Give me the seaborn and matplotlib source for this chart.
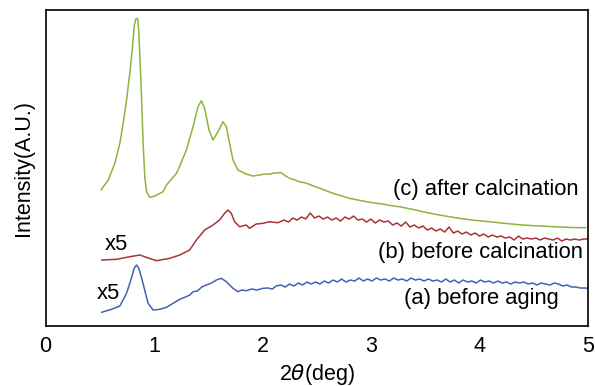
import pandas as pd
import matplotlib
matplotlib.use("Agg")
import matplotlib.pyplot as plt
import seaborn as sns

# 2theta (deg) and intensity (a.u.)
x_c = [0.511, 0.578, 0.639, 0.685, 0.716, 0.747, 0.777, 0.802, 0.817, 0.830, 0.848, 0.857,
       0.869, 0.885, 0.900, 0.915, 0.931, 0.961, 1.007, 1.084, 1.115, 1.207, 1.237, 1.299,
       1.360, 1.406, 1.437, 1.467, 1.507, 1.544, 1.590, 1.636, 1.667, 1.697, 1.728, 1.774,
       1.851, 1.912, 1.973, 2.02, 2.065, 2.11, 2.17, 2.20, 2.25, 2.30, 2.34, 2.40,
       2.49, 2.57, 2.65, 2.72, 2.80, 2.88, 2.96, 3.03, 3.11, 3.18, 3.26, 3.37,
       3.48, 3.63, 3.78, 3.93, 4.09, 4.25, 4.40, 4.55, 4.70, 4.85, 4.98]
y_c = [136, 146, 162.7, 182.7, 202.7, 226, 252.7, 279.3, 299.3, 306.7, 307.7, 299.3,
       272.7, 229.3, 182.7, 149.3, 134.3, 128.7, 130, 134.3, 141, 152.7, 160, 176,
       199.3, 219.3, 225.3, 217.7, 196, 186, 194.3, 204.3, 199.3, 182.7, 166, 156,
       152, 150, 151, 152, 152, 153, 153.5, 151, 147.7, 146, 144.3, 143,
       139.3, 136, 132.7, 130.5, 127.7, 126, 124.3, 123, 122, 120.5, 119.3, 117,
       114.3, 111, 108.3, 106, 104.3, 102.5, 101, 100, 99.3, 98.5, 98.3]

x_b = [0.517, 0.655, 0.777, 0.87, 0.93, 1.023, 1.145, 1.237, 1.329, 1.391, 1.467, 1.544,
       1.605, 1.651, 1.682, 1.713, 1.743, 1.789, 1.851, 1.881, 1.943, 2.004, 2.065, 2.142,
       2.20, 2.24, 2.28, 2.32, 2.36, 2.40, 2.44, 2.48, 2.52, 2.56, 2.60, 2.64,
       2.68, 2.72, 2.76, 2.80, 2.84, 2.88, 2.92, 2.96, 3.00, 3.04, 3.08, 3.12,
       3.16, 3.20, 3.24, 3.28, 3.32, 3.36, 3.40, 3.44, 3.48, 3.52, 3.56, 3.60,
       3.64, 3.68, 3.72, 3.76, 3.80, 3.84, 3.88, 3.92, 3.96, 4.00, 4.04, 4.08,
       4.12, 4.16, 4.20, 4.24, 4.28, 4.32, 4.36, 4.40, 4.44, 4.48, 4.52, 4.56,
       4.60, 4.64, 4.68, 4.72, 4.76, 4.80, 4.84, 4.88, 4.92, 4.96, 5.00]
y_b = [66, 66.7, 69.3, 71, 68.7, 65.3, 67.7, 71, 76, 86, 96, 101,
       106, 112.7, 116, 112.7, 104.3, 99.3, 101, 97.7, 102, 102.7, 104.3, 103.3,
       106, 104, 108, 106, 109, 107, 113, 108, 110, 107, 109, 106,
       108, 105, 109, 107, 110, 106, 107, 104, 107, 103, 106, 104,
       105, 101, 103, 100, 104, 99, 101, 98, 100, 96, 98, 95,
       97, 94, 99, 93, 95, 92, 94, 91, 93, 90, 92, 89,
       91, 89, 90, 88, 89, 86, 90, 87, 88, 87, 88, 86,
       88, 87, 86, 88, 85, 87, 86, 87, 86, 87, 87]

x_a = [0.517, 0.609, 0.685, 0.747, 0.787, 0.817, 0.839, 0.860, 0.891, 0.922, 0.946, 0.992,
       1.053, 1.115, 1.176, 1.237, 1.29, 1.33, 1.36, 1.40, 1.44, 1.483, 1.53, 1.575,
       1.621, 1.667, 1.728, 1.774, 1.81, 1.851, 1.90, 1.95, 2.004, 2.05, 2.09, 2.127,
       2.17, 2.21, 2.25, 2.29, 2.33, 2.37, 2.41, 2.45, 2.49, 2.53, 2.57, 2.61,
       2.65, 2.69, 2.73, 2.77, 2.81, 2.85, 2.89, 2.93, 2.97, 3.01, 3.05, 3.09,
       3.13, 3.17, 3.21, 3.25, 3.29, 3.33, 3.37, 3.41, 3.45, 3.49, 3.53, 3.57,
       3.61, 3.65, 3.69, 3.73, 3.77, 3.81, 3.85, 3.89, 3.93, 3.97, 4.01, 4.05,
       4.09, 4.13, 4.17, 4.21, 4.25, 4.29, 4.33, 4.37, 4.41, 4.45, 4.49, 4.53,
       4.57, 4.61, 4.65, 4.69, 4.73, 4.77, 4.81, 4.85, 4.89, 4.93, 4.97, 5.00]
y_a = [13.7, 16.7, 20, 32.7, 46, 57.7, 61, 57.7, 46, 32.7, 22.7, 16,
       16.7, 18.7, 22.7, 26.7, 29, 31, 34.3, 35, 39, 41, 43, 46,
       47.7, 44.3, 37.7, 34.3, 36, 35.3, 37, 36, 37.7, 38, 37, 40,
       41, 39, 42, 40, 43, 41, 44, 42, 44, 42, 45, 43,
       46, 44, 47, 44, 46, 45, 48, 45, 47, 45, 48, 46,
       47, 45, 48, 46, 47, 45, 48, 46, 47, 45, 47, 45,
       46, 44, 47, 44, 46, 43, 46, 44, 45, 43, 46, 44,
       45, 43, 45, 43, 44, 42, 44, 43, 44, 42, 43, 41,
       43, 42, 41, 43, 42, 40, 41, 39, 39, 38, 38, 37.7]

labels = ["(a) before aging", "(b) before calcination", "(c) after calcination"]
colors = ["#4462b4", "#a93438", "#8db43e"]

df = pd.concat([
    pd.DataFrame({"x": x_a, "y": y_a, "sample": labels[0]}),
    pd.DataFrame({"x": x_b, "y": y_b, "sample": labels[1]}),
    pd.DataFrame({"x": x_c, "y": y_c, "sample": labels[2]}),
], ignore_index=True)

sns.set_style("white")
plt.rcParams["font.family"] = ["Liberation Sans", "DejaVu Sans"]
plt.rcParams["text.color"] = "black"
plt.rcParams["axes.labelcolor"] = "black"

fig = plt.figure(figsize=(5.95, 3.86), dpi=100)
ax = fig.add_axes([0.0765, 0.1554, 0.9115, 0.8186])

sns.lineplot(data=df, x="x", y="y", hue="sample", palette=colors, sort=False,
             estimator=None, linewidth=1.1, legend=False, ax=ax)

ax.set_xlim(0, 5)
ax.set_ylim(0, 316)
ax.set_xticks([0, 1, 2, 3, 4, 5])
ax.set_yticks([])
ax.tick_params(axis="x", direction="in", length=6.5, width=1, labelsize=15.5,
               pad=7, colors="black")
for s in ax.spines.values():
    s.set_color("black")
    s.set_linewidth(1.2)

ax.set_xlabel(r"2$\it{\theta}$(deg)", fontsize=15.5, labelpad=4)
ax.set_ylabel("Intensity(A.U.)", fontsize=15.5, labelpad=8)

fs = 15.8
ax.text(4.06, 137, labels[2], fontsize=fs, ha="center", va="center")
ax.text(4.01, 74, labels[1], fontsize=fs, ha="center", va="center")
ax.text(4.02, 27.5, labels[0], fontsize=fs, ha="center", va="center")
ax.text(0.65, 82, "x5", fontsize=fs, ha="center", va="center")
ax.text(0.58, 32.5, "x5", fontsize=fs, ha="center", va="center")

fig.savefig("out.png", dpi=100)
